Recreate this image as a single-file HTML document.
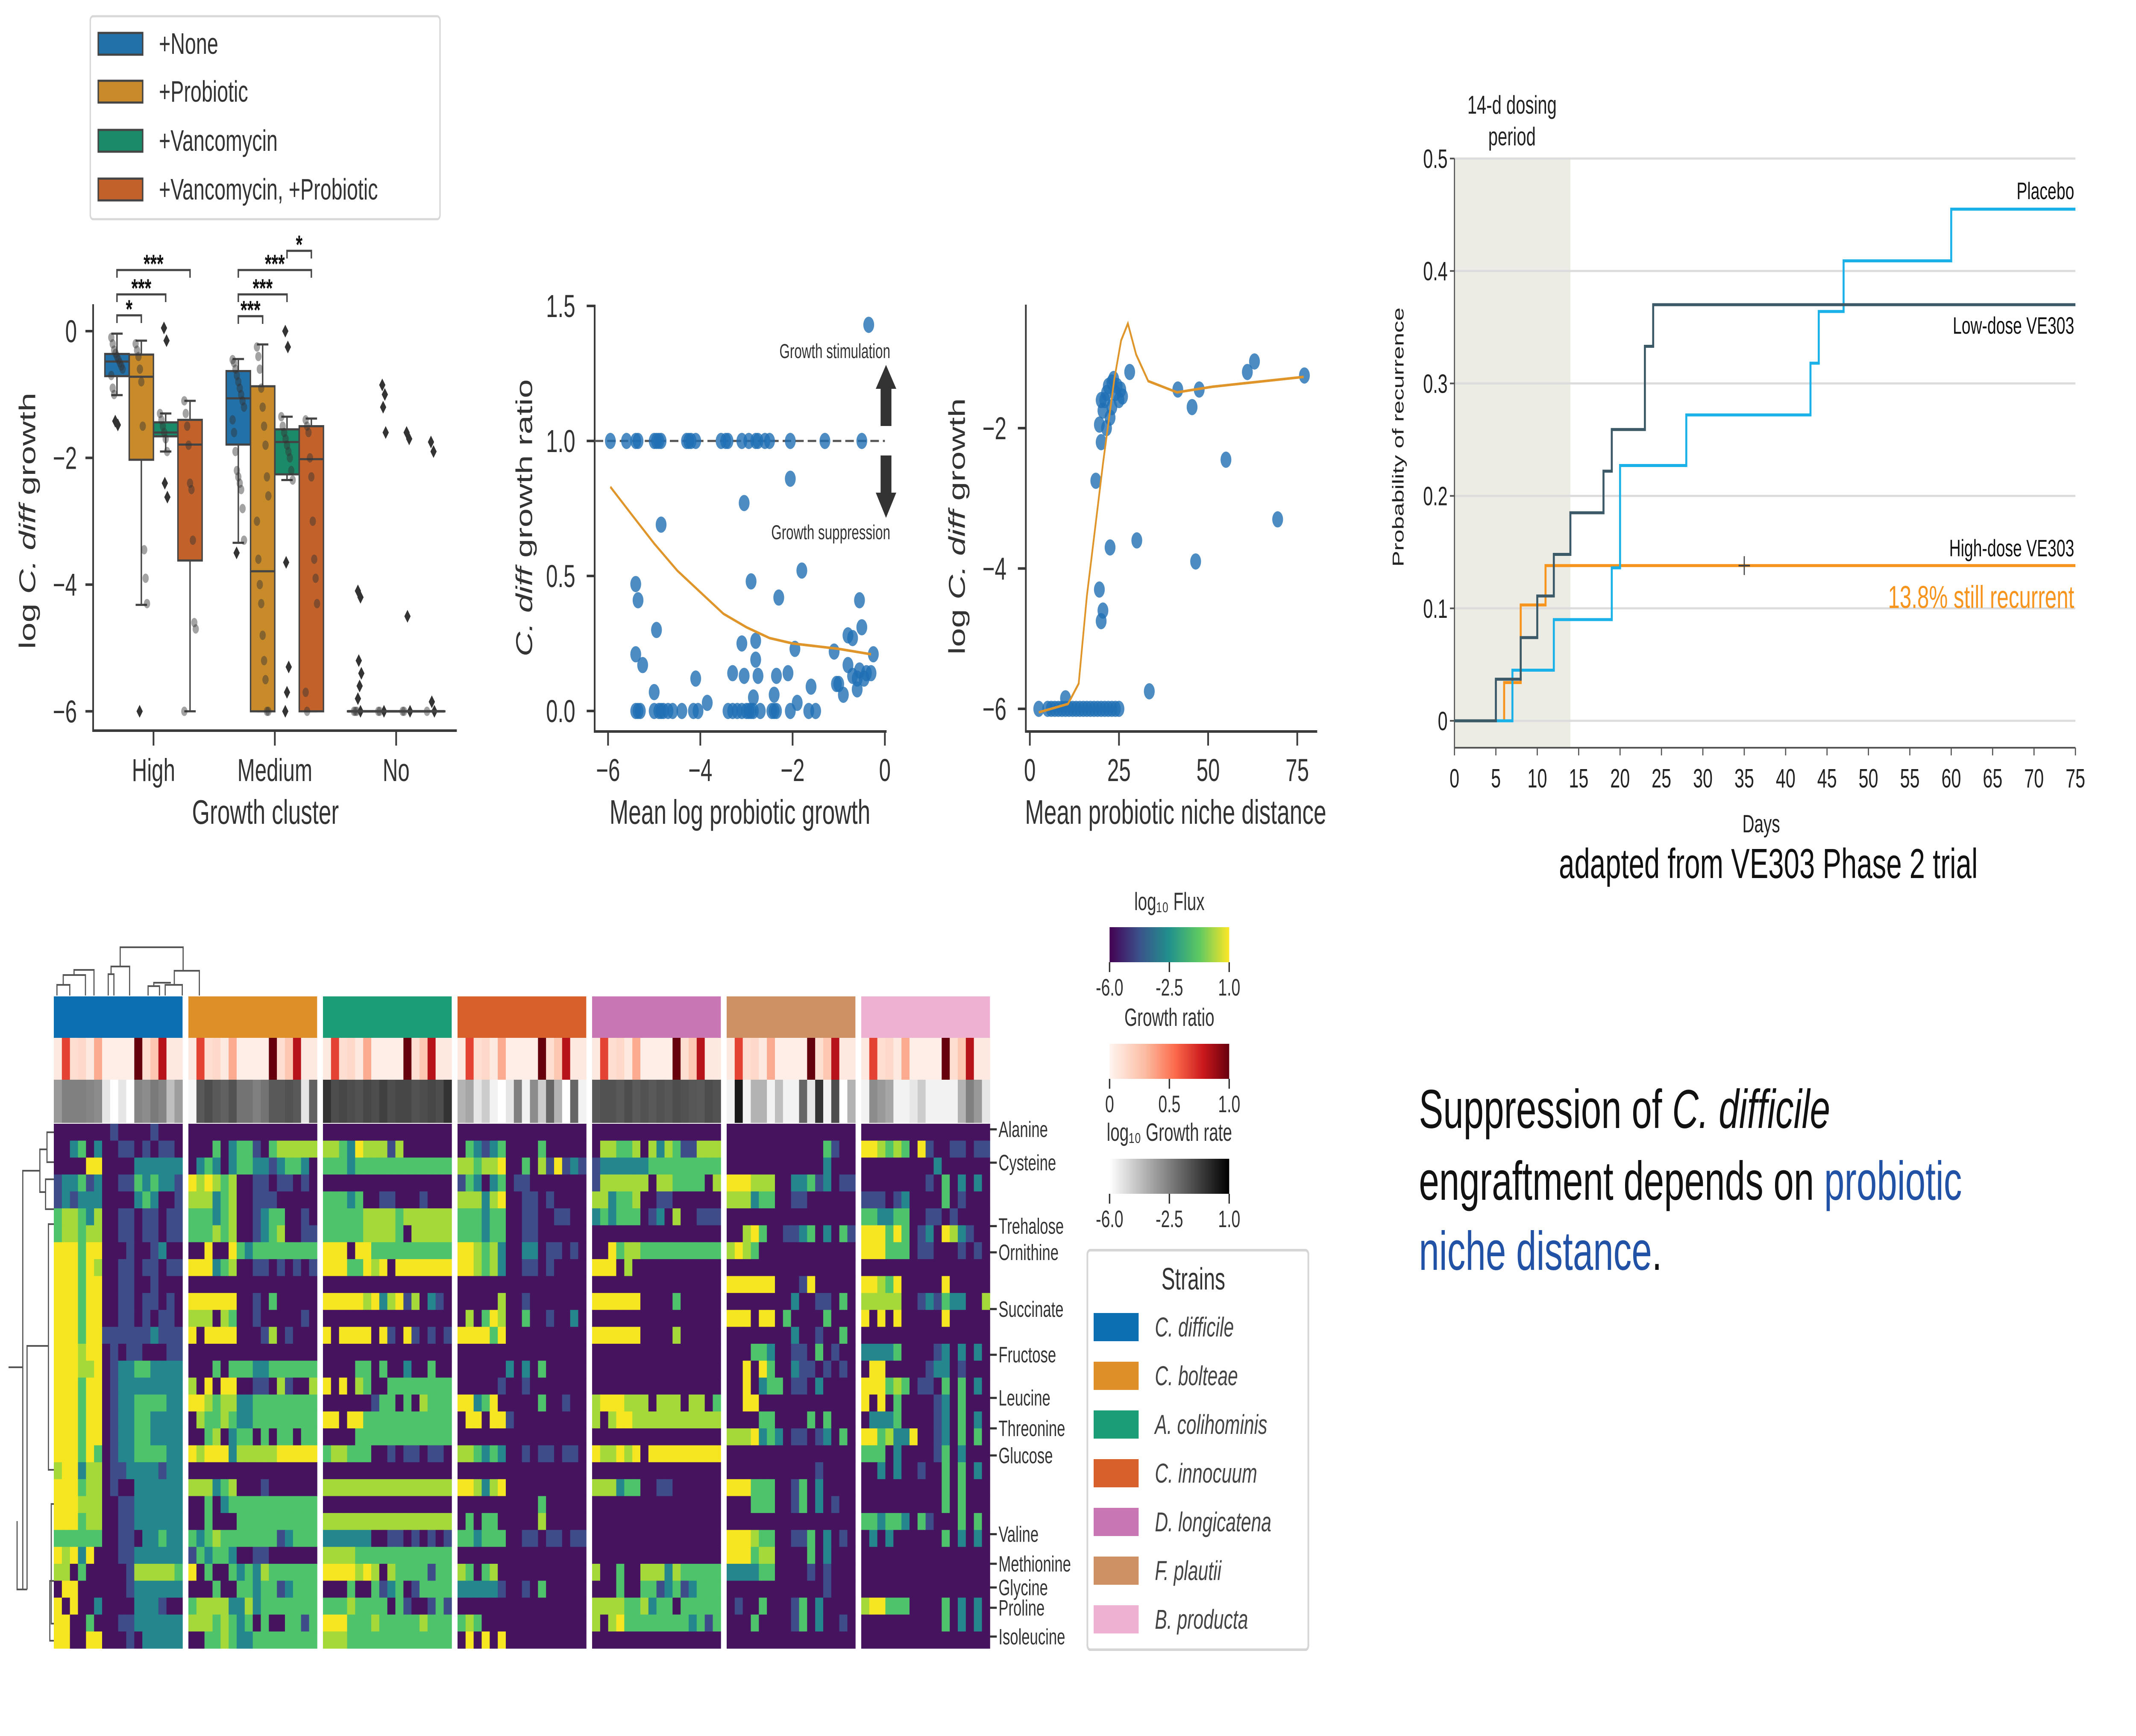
<!DOCTYPE html>
<html><head><meta charset="utf-8"><style>
html,body{margin:0;padding:0;background:#fff;overflow:hidden;width:100%;height:100%;}
svg{display:block;width:100vw;height:100vh;}
text{font-family:"Liberation Sans",sans-serif;}
.nar{font-family:"Liberation Sans Narrow","Liberation Sans",sans-serif;}
</style></head><body>
<svg id="fig" xmlns="http://www.w3.org/2000/svg" viewBox="0 0 7500 4063" preserveAspectRatio="none">
<defs>
<linearGradient id="gViridis" x1="0" x2="1" y1="0" y2="0"><stop offset="0" stop-color="#440154"/><stop offset="0.25" stop-color="#3b528b"/><stop offset="0.5" stop-color="#21918c"/><stop offset="0.75" stop-color="#5ec962"/><stop offset="1" stop-color="#fde725"/></linearGradient>
<linearGradient id="gReds" x1="0" x2="1" y1="0" y2="0"><stop offset="0" stop-color="#fff5f0"/><stop offset="0.3" stop-color="#fcbba1"/><stop offset="0.55" stop-color="#fb6a4a"/><stop offset="0.78" stop-color="#cb181d"/><stop offset="1" stop-color="#67000d"/></linearGradient>
<linearGradient id="gGrays" x1="0" x2="1" y1="0" y2="0"><stop offset="0" stop-color="#ffffff"/><stop offset="1" stop-color="#000000"/></linearGradient>
</defs>

<g>
<rect x="317" y="38" width="1228" height="475" rx="10" fill="#fff" stroke="#d8d8d8" stroke-width="5"/>
<rect x="345" y="77" width="156" height="51" fill="#2271a9" stroke="#444" stroke-width="5"/>
<text x="558" y="126" font-size="70" fill="#333">+None</text>
<rect x="345" y="189" width="156" height="51" fill="#c98b2a" stroke="#444" stroke-width="5"/>
<text x="558" y="238" font-size="70" fill="#333">+Probiotic</text>
<rect x="345" y="304" width="156" height="51" fill="#1b8a68" stroke="#444" stroke-width="5"/>
<text x="558" y="353" font-size="70" fill="#333">+Vancomycin</text>
<rect x="345" y="418" width="156" height="51" fill="#c2622a" stroke="#444" stroke-width="5"/>
<text x="558" y="467" font-size="70" fill="#333">+Vancomycin, +Probiotic</text>
</g>
<g id="boxplot"></g>
<g id="scatter1"></g>
<g id="scatter2"></g>
<g id="km"></g>
<g id="heat"></g>

<text x="6209" y="2055" font-size="98" fill="#111" text-anchor="middle">adapted from VE303 Phase 2 trial</text>
<g font-size="128" fill="#111">
<text x="4982" y="2640">Suppression of <tspan font-style="italic">C. difficile</tspan></text>
<text x="4982" y="2808">engraftment depends on <tspan fill="#2152a6">probiotic</tspan></text>
<text x="4982" y="2972"><tspan fill="#2152a6">niche distance</tspan>.</text>
</g>
</svg>
<script>
const NS='http://www.w3.org/2000/svg';
function el(tag,attrs,parent){const e=document.createElementNS(NS,tag);for(const k in attrs)e.setAttribute(k,attrs[k]);parent.appendChild(e);return e;}
function txt(parent,x,y,s,size,extra){const t=el('text',Object.assign({x:x,y:y,'font-size':size,fill:'#333'},extra||{}),parent);t.textContent=s;return t;}

/* ================= BOX PLOT DATA ================= */
const boxCategories=['High','Medium','No'];
const boxGroups=['None','Probiotic','Vancomycin','Vanco+Probiotic'];
const boxQ1=[[-0.71,-2.03,-1.66,-3.62],[-1.79,-6.0,-2.26,-6.0],[-6,-6,-6,-6]];
const boxMed=[[-0.48,-0.72,-1.6,-1.79],[-1.06,-3.79,-1.75,-2.02],[-6,-6,-6,-6]];
const boxQ3=[[-0.36,-0.37,-1.44,-1.4],[-0.63,-0.87,-1.55,-1.5],[-6,-6,-6,-6]];
const boxWLo=[[-1.01,-4.32,-1.9,-6.0],[-3.34,-6.0,-2.35,-6.0],[-6,-6,-6,-6]];
const boxWHi=[[-0.04,-0.15,-1.3,-1.1],[-0.44,-0.21,-1.35,-1.38],[-6,-6,-6,-6]];
const boxOutliers=[[[-1.42,-1.48],[-6.0],[0.05,-0.15,-2.4,-2.62],[]],[[-3.5],[],[0.0,-0.25,-3.65,-5.3,-5.7,-6.0],[]],[[-4.1,-4.2,-5.2,-5.4,-5.6,-5.8,-6],[-0.85,-1.0,-1.2,-1.6,-6],[-1.6,-1.7,-4.5,-6],[-1.75,-1.9,-5.85,-6]]];
const boxStrip=[[[-0.1,-0.2,-0.3,-0.35,-0.4,-0.45,-0.5,-0.55,-0.6,-0.7,-0.9,-1.0],[-0.2,-0.3,-0.4,-0.6,-0.8,-1.5,-3.45,-3.9,-4.3],[-1.3,-1.4,-1.5,-1.6,-1.7,-1.9],[-1.1,-1.3,-1.5,-1.8,-2.4,-2.5,-3.3,-4.6,-4.7,-6.0]],
 [[-0.45,-0.5,-0.6,-0.7,-0.8,-0.9,-1.0,-1.1,-1.2,-1.4,-1.6,-1.9,-2.2,-2.3,-2.4,-2.5,-2.8,-3.3],[-0.25,-0.4,-0.6,-0.9,-1.2,-1.5,-1.8,-2.3,-2.6,-3.0,-3.6,-4.0,-4.3,-4.8,-5.2,-5.5,-6.0,-6.0],[-1.35,-1.5,-1.6,-1.7,-1.8,-1.9,-2.0,-2.2,-2.35],[-1.4,-1.5,-1.6,-2.0,-2.3,-3.0,-3.6,-3.9,-4.3,-5.7,-6.0]],
 [[-6,-6,-6],[-6,-6],[-6,-6],[-6]]];
const boxColors=['#2271a9','#c98b2a','#1b8a68','#c2622a'];
const boxYTicks=[0,-2,-4,-6];
const sigBrackets=[[0,0,1,'*',738],[0,0,2,'***',689],[0,0,3,'***',632],[1,0,1,'***',740],[1,0,2,'***',689],[1,0,3,'***',632],[1,2,3,'*',587]];

(function(){
 const g=document.getElementById('boxplot');
 const by=v=>775-v*148.3;
 const catX=[539,965,1391];
 const bx=(c,k)=>catX[c]+(k-1.5)*85.5;
 let a=el('line',{x1:327,y1:712,x2:327,y2:1710,stroke:'#3a3a3a','stroke-width':6},g);
 
 
 a=el('line',{x1:324,y1:1710,x2:1604,y2:1710,stroke:'#3a3a3a','stroke-width':6},g);
 
 
 boxYTicks.forEach(v=>{
  const t=el('line',{x1:300,x2:327,y1:by(v),y2:by(v),stroke:'#3a3a3a','stroke-width':6},g);
  
  
  const l=txt(g,270,by(v)+26,(v<0?'\u2212':'')+Math.abs(v),74,{'text-anchor':'end'});
  
  
 });
 boxCategories.forEach((c,i)=>{
  const t=el('line',{x1:catX[i],x2:catX[i],y1:1710,y2:1745,stroke:'#3a3a3a','stroke-width':6},g);
  
  
  const l=txt(g,catX[i],1828,c,74,{'text-anchor':'middle'});
  
  
 });
 let tt=txt(g,932,1928,'Growth cluster',80,{'text-anchor':'middle'});
 
 
 tt=el('text',{x:0,y:0,'font-size':80,fill:'#333','text-anchor':'middle',transform:'translate(124,1219) rotate(-90)'},g);
 tt.innerHTML='log <tspan font-style="italic">C. diff</tspan> growth';
 
 
 for(let c=0;c<3;c++)for(let k=0;k<4;k++){
  const x=bx(c,k),w=85;
  const wl=el('line',{x1:x,x2:x,y1:by(boxWHi[c][k]),y2:by(boxWLo[c][k]),stroke:'#444','stroke-width':5},g);
  
  
  [boxWHi[c][k],boxWLo[c][k]].forEach(v=>{const cap=el('line',{x1:x-20,x2:x+20,y1:by(v),y2:by(v),stroke:'#444','stroke-width':5},g);
   
   });
  const h=Math.max(by(boxQ1[c][k])-by(boxQ3[c][k]),0.01);
  const r=el('rect',{x:x-w/2,y:by(boxQ3[c][k]),width:w,height:h,fill:boxColors[k],stroke:'#444','stroke-width':5},g);
  
  
  const m=el('line',{x1:x-w/2,x2:x+w/2,y1:by(boxMed[c][k]),y2:by(boxMed[c][k]),stroke:'#444','stroke-width':5},g);
  
  
  boxStrip[c][k].forEach((v,i)=>{const p=el('circle',{cx:x+((i*37)%9-4)*5,cy:by(v),r:11,fill:'#333','fill-opacity':0.45},g);
   
   });
  boxOutliers[c][k].forEach((v,i)=>{const y=by(v),xx=x+((i*23)%5-2)*3;const d=el('path',{d:`M${xx} ${y-15}L${xx+11} ${y}L${xx} ${y+15}L${xx-11} ${y}Z`,fill:'#333'},g);
   
   });
 }
 const nl=el('line',{x1:1220,x2:1561,y1:by(-6),y2:by(-6),stroke:'#444','stroke-width':6},g);
 
 
 sigBrackets.forEach(s=>{
  const x1=bx(s[0],s[1]),x2=bx(s[0],s[2]),y=s[4];
  const p=el('path',{d:`M${x1} ${y+18}V${y}H${x2}V${y+18}`,fill:'none',stroke:'#444','stroke-width':5},g);
  
  
  const t=txt(g,(x1+x2)/2,y+6,s[3],60,{'text-anchor':'middle',fill:'#111','font-weight':'bold'});
  
  
 });
})();

/* ================= SCATTER 1 DATA ================= */
const s1X=[-5.95,-5.6,-5.4,-5.35,-5.0,-4.95,-4.9,-4.85,-4.3,-4.25,-4.2,-4.1,-3.55,-3.45,-3.4,-3.1,-2.95,-2.8,-2.75,-2.6,-2.5,-2.05,-1.3,-0.5,
 -0.35,-2.05,-3.05,-4.85,-1.8,-2.9,-2.3,-5.4,-5.35,-0.55,-4.95,-0.5,-3.1,-2.8,-1.95,-1.1,-0.25,-0.7,-0.8,-5.4,-5.25,-4.1,-5.0,-3.3,-3.05,-2.75,-2.8,-2.35,-2.1,-2.4,-2.85,-1.6,-1.9,-3.85,-1.0,-0.9,-0.6,-0.4,-0.55,-0.7,-0.8,-0.45,-0.6,-1.05,-0.3,
 -5.4,-5.35,-5.3,-5.0,-4.9,-4.85,-4.8,-4.7,-4.6,-4.4,-4.15,-4.05,-3.4,-3.3,-3.2,-3.1,-3.0,-2.95,-2.9,-2.85,-2.7,-2.45,-2.4,-2.35,-2.05,-1.65,-1.5];
const s1Y=[1,1,1,1,1,1,1,1,1,1,1,1,1,1,1,1,1,1,1,1,1,1,1,1,
 1.43,0.86,0.77,0.69,0.52,0.48,0.42,0.47,0.41,0.41,0.3,0.31,0.25,0.26,0.23,0.22,0.21,0.27,0.28,0.21,0.17,0.12,0.07,0.14,0.13,0.13,0.19,0.13,0.14,0.06,0.05,0.09,0.03,0.03,0.1,0.06,0.08,0.14,0.15,0.13,0.17,0.12,0.12,0.1,0.14,
 0,0,0,0,0,0,0,0,0,0,0,0,0,0,0,0,0,0,0,0,0,0,0,0,0,0,0];
const s1FitX=[-5.95,-5.5,-5,-4.5,-4,-3.5,-3,-2.5,-2,-1.5,-1,-0.3];
const s1FitY=[0.83,0.73,0.62,0.52,0.44,0.36,0.31,0.27,0.25,0.24,0.23,0.21];
const s1XTicks=[-6,-4,-2,0];
const s1YTicks=[0,0.5,1,1.5];

(function(){
 const g=document.getElementById('scatter1');
 const sx=v=>3107+v*162,sy=v=>1664-v*632;
 let a=el('line',{x1:2088,y1:713,x2:2088,y2:1712,stroke:'#3a3a3a','stroke-width':6},g);
 
 
 a=el('line',{x1:2085,y1:1712,x2:3113,y2:1712,stroke:'#3a3a3a','stroke-width':6},g);
 
 
 s1YTicks.forEach(v=>{const t=el('line',{x1:2060,x2:2088,y1:sy(v),y2:sy(v),stroke:'#3a3a3a','stroke-width':6},g);
  
  
  const l=txt(g,2020,sy(v)+26,v.toFixed(1),74,{'text-anchor':'end'});
  
  });
 s1XTicks.forEach(v=>{const t=el('line',{x1:sx(v),x2:sx(v),y1:1712,y2:1745,stroke:'#3a3a3a','stroke-width':6},g);
  
  
  const l=txt(g,sx(v),1828,(v<0?'\u2212':'')+Math.abs(v),74,{'text-anchor':'middle'});
  
  });
 let t=txt(g,2598,1928,'Mean log probiotic growth',80,{'text-anchor':'middle'});
 
 
 t=el('text',{x:0,y:0,'font-size':80,fill:'#333','text-anchor':'middle',transform:'translate(1868,1212) rotate(-90)'},g);
 t.innerHTML='<tspan font-style="italic">C. diff</tspan> growth ratio';
 
 
 const d=el('line',{x1:2088,x2:3107,y1:sy(1),y2:sy(1),stroke:'#555','stroke-width':5,'stroke-dasharray':'30 14'},g);
 
 
 s1X.forEach((x,i)=>{const c=el('circle',{cx:sx(x),cy:sy(s1Y[i]),r:19,fill:'#1f6fb4','fill-opacity':0.8},g);
  
  });
 const p=el('polyline',{points:s1FitX.map((x,i)=>sx(x)+','+sy(s1FitY[i])).join(' '),fill:'none',stroke:'#e0952a','stroke-width':6},g);
 
 
 t=txt(g,3126,838,'Growth stimulation',47,{'text-anchor':'end'});
 
 
 t=txt(g,3126,1262,'Growth suppression',47,{'text-anchor':'end'});
 
 
 let ar=el('path',{d:'M3092 997V910H3075L3111 854L3147 910H3130V997Z',fill:'#333'},g);
 
 
 ar=el('path',{d:'M3092 1066V1153H3075L3111 1212L3147 1153H3130V1066Z',fill:'#333'},g);
 
 
})();

/* ================= SCATTER 2 DATA ================= */
const s2X=[2.5,5,6,7,8,9,10,11,12,13,14,15,16,17,18,19,20,21,22,23,24,25,10,18.5,19.5,20,20.5,22.5,30,33.5,46.5,55,69.5,41.5,45.5,47.5,61,63,77,28,
 19.5,20,20.5,21,21.5,22,22.5,23,23.5,24,24.5,25,25.5,26,21.5,23,20];
const s2Y=[-6,-6,-6,-6,-6,-6,-6,-6,-6,-6,-6,-6,-6,-6,-6,-6,-6,-6,-6,-6,-6,-6,-5.85,-2.75,-4.3,-4.75,-4.6,-3.7,-3.6,-5.75,-3.9,-2.45,-3.3,-1.45,-1.7,-1.45,-1.2,-1.05,-1.25,-1.2,
 -1.95,-2.2,-1.75,-1.6,-1.5,-1.4,-1.85,-1.35,-1.3,-1.5,-1.4,-1.6,-1.45,-1.55,-2.0,-1.7,-1.6];
const s2FitX=[2.5,10.7,13.7,16.0,20.6,23.7,25.6,27.5,29.8,33.2,41.3,51.2,76.8];
const s2FitY=[-6.05,-5.93,-5.64,-4.39,-2.47,-1.3,-0.75,-0.51,-0.95,-1.33,-1.49,-1.41,-1.27];
const s2XTicks=[0,25,50,75];
const s2YTicks=[-2,-4,-6];

(function(){
 const g=document.getElementById('scatter2');
 const sx=v=>3616+v*12.52,sy=v=>1002-(v+2)*164.25;
 let a=el('line',{x1:3602,y1:713,x2:3602,y2:1712,stroke:'#3a3a3a','stroke-width':6},g);
 
 
 a=el('line',{x1:3599,y1:1712,x2:4625,y2:1712,stroke:'#3a3a3a','stroke-width':6},g);
 
 
 s2YTicks.forEach(v=>{const t=el('line',{x1:3574,x2:3602,y1:sy(v),y2:sy(v),stroke:'#3a3a3a','stroke-width':6},g);
  
  
  const l=txt(g,3534,sy(v)+26,'\u2212'+Math.abs(v),74,{'text-anchor':'end'});
  
  });
 s2XTicks.forEach(v=>{const t=el('line',{x1:sx(v),x2:sx(v),y1:1712,y2:1745,stroke:'#3a3a3a','stroke-width':6},g);
  
  
  const l=txt(g,sx(v),1828,String(v),74,{'text-anchor':'middle'});
  
  });
 let t=txt(g,4128,1928,'Mean probiotic niche distance',80,{'text-anchor':'middle'});
 
 
 t=el('text',{x:0,y:0,'font-size':80,fill:'#333','text-anchor':'middle',transform:'translate(3388,1232) rotate(-90)'},g);
 t.innerHTML='log <tspan font-style="italic">C. diff</tspan> growth';
 
 
 s2X.forEach((x,i)=>{const c=el('circle',{cx:sx(x),cy:sy(s2Y[i]),r:19,fill:'#1f6fb4','fill-opacity':0.8},g);
  
  });
 const p=el('polyline',{points:s2FitX.map((x,i)=>sx(x)+','+sy(s2FitY[i])).join(' '),fill:'none',stroke:'#e0952a','stroke-width':6},g);
 
 
})();

/* ================= KAPLAN-MEIER DATA ================= */
const kmPlaceboDays=[0,7,12,19,20,28,43,44,47,60,75];
const kmPlaceboProb=[0,0.045,0.09,0.136,0.227,0.272,0.318,0.364,0.409,0.455,0.455];
const kmLowDays=[0,5,8,10,12,14,18,19,23,24,75];
const kmLowProb=[0,0.037,0.074,0.111,0.148,0.185,0.222,0.259,0.333,0.37,0.37];
const kmHighDays=[0,6,8,11,75];
const kmHighProb=[0,0.034,0.103,0.138,0.138];
const kmXTicks=[0,5,10,15,20,25,30,35,40,45,50,55,60,65,70,75];
const kmYTicks=[0,0.1,0.2,0.3,0.4,0.5];

(function(){
 const g=document.getElementById('km');
 const kx=v=>5107+v*29.07,ky=v=>1687-v*2632;
 let r=el('rect',{x:kx(0),y:ky(0.5),width:kx(14)-kx(0),height:1750-ky(0.5),fill:'#ececE4'},g);
 
 
 kmYTicks.forEach(v=>{const l=el('line',{x1:kx(0),x2:kx(75),y1:ky(v),y2:ky(v),stroke:'#dcdcdc','stroke-width':5},g);
  
  
  const t=el('line',{x1:kx(0)-16,x2:kx(0),y1:ky(v),y2:ky(v),stroke:'#555','stroke-width':4},g);
  
  
  const lb=txt(g,kx(0)-24,ky(v)+22,v===0?'0':v.toFixed(1),62,{'text-anchor':'end',fill:'#222',class:'nar'});
  
  });
 let a=el('line',{x1:kx(0),y1:ky(0.5),x2:kx(0),y2:1750,stroke:'#555','stroke-width':4},g);
 
 
 a=el('line',{x1:kx(0),y1:1750,x2:kx(75),y2:1750,stroke:'#555','stroke-width':4},g);
 
 
 kmXTicks.forEach(v=>{const t=el('line',{x1:kx(v),x2:kx(v),y1:1750,y2:1768,stroke:'#555','stroke-width':4},g);
  
  
  const lb=txt(g,kx(v),1843,String(v),62,{'text-anchor':'middle',fill:'#222',class:'nar'});
  
  });
 let t=txt(g,6184,1948,'Days',58,{'text-anchor':'middle',fill:'#222',class:'nar'});
 
 
 t=txt(g,0,0,'Probability of recurrence',56,{'text-anchor':'middle',fill:'#222',transform:'translate(4928,1023) rotate(-90)'});
 
 
 t=txt(g,5309,266,'14-d dosing',60,{'text-anchor':'middle',fill:'#222',class:'nar'});
 
 
 t=txt(g,5309,340,'period',60,{'text-anchor':'middle',fill:'#222',class:'nar'});
 
 
 function step(days,prob){let d=`M${kx(days[0])} ${ky(prob[0])}`;for(let i=1;i<days.length;i++){d+=`H${kx(days[i])}V${ky(prob[i])}`;}return d;}
 let p=el('path',{d:step(kmHighDays,kmHighProb),fill:'none',stroke:'#f7941d','stroke-width':7},g);
 
 
 p=el('path',{d:step(kmPlaceboDays,kmPlaceboProb),fill:'none',stroke:'#1ab0e8','stroke-width':7},g);
 
 
 p=el('path',{d:step(kmLowDays,kmLowProb),fill:'none',stroke:'#3b5966','stroke-width':7},g);
 
 
 const cx=kx(35),cy=ky(kmHighProb[kmHighProb.length-1]);
 p=el('path',{d:`M${cx-20} ${cy}H${cx+20}M${cx} ${cy-22}V${cy+22}`,stroke:'#444','stroke-width':4},g);
 
 
 t=txt(g,7283,466,'Placebo',56,{'text-anchor':'end',fill:'#111',class:'nar'});
 
 
 t=txt(g,7283,781,'Low-dose VE303',56,{'text-anchor':'end',fill:'#111',class:'nar'});
 
 
 t=txt(g,7283,1302,'High-dose VE303',56,{'text-anchor':'end',fill:'#111',class:'nar'});
 
 
 t=txt(g,7283,1423,'13.8% still recurrent',74,{'text-anchor':'end',fill:'#f7941d',class:'nar'});
 
 
})();

/* ================= HEATMAP DATA ================= */
const strainNames=['C. difficile','C. bolteae','A. colihominis','C. innocuum','D. longicatena','F. plautii','B. producta'];
const strainColors=['#0b6fb2','#de8f28','#1b9e77','#d8602a','#c877b4','#cd9163','#eeb1d2'];
const blockDiff=['0000000100001000','0023020011010110','0000550000222222','1223120011323221','1212220000232001','3443240011011011','3443440011011011','5553550001001200','5553540011011011','5553550011001000','5553550011011010','5553550011010110','5553551111112111','5554550101100011','5554450122332222','5553550122222222','5553550122333322','5553550122332222','5553550122332222','5553530122333322','4552440112222122','5553440100222222','5554440011222222','5553440011222222','3333330011022322','5452500011222222','4403000001444443','0550000001222222','5050020000222100','5500300011222222','5500550001022222'];
const blockBolteae=['0000000000000000','0003023310344444','0232023322123320','5454340011011010','4442340011100000','3332340012330010','3334340012340011','0050053233333333','5552340011010101','0000000000000000','5555550010300000','4440430010000010','5055550001401000','0000000000000000','0003033322333333','4050550011041004','5543442233333333','0433432233333333','0034023303033033','5455524444455555','0000000000000000','4442340001000000','0030233333333333','0030003333333333','3234333333312333','1323320011000000','5030032324333333','0003003323312333','3444422423333333','4443432303003313','0033432233333333'];
const blockColihominis=['0000000000000000','4432544414000000','3332333333333333','0000000000000000','3332300110001000','3333344443444444','3333344443044444','5550553333333333','5553354505555555','0000000000000000','5555545245140210','0000000000000000','5055550510510101','0000000000000000','0000330300200300','5050430033333333','0000001330304333','5505533333333333','0000333333333333','3443330010110110','0000000000000000','4444444444444444','0000000000000000','4444444444444444','2222220011010101','4444333333333333','5555454043333133','0003003123013333','3334333303100131','5553334333334333','4443333333333333'];
const blockInnocuum=['0000000000000000','0321230000300000','4434450030415121','1320230110000000','4442450011010000','3332330011001100','3332330011000000','5543420022011010','5543420011010000','0000000000000000','0000040010000000','0403540030010020','5555350000000000','0000000000000000','0000002020300000','0000010010000000','5523500000300100','0550551000000000','0000000000000000','4432320010110110','0000000000000000','5542450000000000','0000000000300000','0303300000400000','3323330011011011','0000000000000000','4303400000000000','2222210010300000','0000000000000000','3430000000000000','0505050000000000'];
const blockLongicatena=['0000000000000000','0443340424311444','1222222333333333','1444444044333304','4423340011000000','2323330120400111','0000000000000000','0053443333333333','5550400000000000','0000000000000000','5555550000300000','0000000000000000','5555550000400000','0000000000000000','0000000000000000','0000000000000000','4555444044404403','4045544444444444','0000000000000000','5445450555555555','0000000000000000','4442330011000000','0000000000000000','0000000000000000','0000000000000000','0000000000000000','4003004442433333','0003003312312333','4444334233033333','4045333333332313','0000000000000000'];
const blockPlautii=['0000000000000000','0000000000003100','0000000000002000','5554440022312011','4442330011000000','0000000000000000','0045300112302031','4543000000000000','0000000000000000','5555550001500000','0000000020011030','5550550300003000','0000000020010030','0003320011030100','0050530021101010','0050233011020000','0055000000000000','0000330000303000','4445232011012030','0000000000000000','0000000000010000','5553330013020000','0003330013020100','0000000000000000','5554330011302010','5553440000302000','2222330000101000','0000000000001000','0100300013020000','0003000013020010','0000000000000000'];
const blockProducta=['0000000000000000','5543430510011011','0000000002000000','0000000010302020','1110120000301000','3322330011010000','5553530120542100','5553330110001010','0000000000000000','5543500000500000','4444400121322004','5050500000500000','0000000000000000','2222300001202020','0550000012201000','5553430110303020','5050300001203000','0222300001203020','5534225001203030','3330200001302000','0020200100303020','0000000000303000','0000000000303000','3323320310003030','0202000000302020','0000000000000000','0000000000000000','0000000000000000','4553330000302020','0000000000302020','0000000000000000'];
const growthRatio=[0.05,0.62,0.1,0.12,0.05,0.3,0.03,0.03,0.03,0.03,1.0,0.1,0.2,0.8,0.05,0.05];
const growthRate=[[0.4,0.5,0.5,0.5,0.48,0.45,0.1,0,0.1,0,0.48,0.45,0.52,0.48,0.25,0.38],[0.03,0.65,0.7,0.65,0.62,0.68,0.55,0.55,0.5,0.55,0.65,0.65,0.68,0.65,0.1,0.62],[0.8,0.7,0.72,0.7,0.68,0.72,0.7,0.75,0.7,0.72,0.72,0.68,0.7,0.72,0.7,0.8],[0.3,0.35,0.1,0.2,0.05,0,0.1,0.5,0.05,0.45,0.2,0.6,0.3,0,0.6,0.05],[0.65,0.68,0.68,0.65,0.7,0.65,0.68,0.65,0.68,0.66,0.7,0.68,0.66,0.65,0.7,0.68],[0.05,0.9,0.05,0.3,0.3,0.05,0.25,0.05,0.05,0.6,0.1,0.8,0.05,0.7,0,0.3],[0.05,0.45,0.4,0.35,0.05,0.05,0.1,0.2,0.05,0.05,0.05,0.05,0.3,0.5,0.4,0.1]];
const metaboliteLabels=['Alanine','Cysteine','Trehalose','Ornithine','Succinate','Fructose','Leucine','Threonine','Glucose','Valine','Methionine','Glycine','Proline','Isoleucine'];
const metaboliteRows=[0.33,2.3,6.05,7.6,10.95,13.65,16.2,18.0,19.6,24.25,26.0,27.4,28.6,30.3];
const strainsTicks=['-6.0','-2.5','1.0'];

(function(){
 const g=document.getElementById('heat');
 const blocks=[blockDiff,blockBolteae,blockColihominis,blockInnocuum,blockLongicatena,blockPlautii,blockProducta];
 const pal=['#46145e','#3e4c8a','#24878d','#4ec36b','#a5d93a','#f6e621'];
 const X0=189,BP=472.5,BW=452,NC=16,CW=BW/NC,Y0=2630,RH=(3858-2630)/31;
 const hx=(b,c)=>X0+b*BP+c*CW, hy=r=>Y0+r*RH;
 function red(v){const st=[[255,245,240],[252,187,161],[251,106,74],[203,24,29],[103,0,13]];const p=Math.min(v,0.999)*4,i=Math.floor(p),f=p-i;const a=st[i],b=st[i+1];return `rgb(${a.map((x,k)=>Math.round(x+(b[k]-x)*f)).join(',')})`;}
 blocks.forEach((blk,b)=>{
  const s=el('rect',{x:hx(b,0),y:2332,width:BW,height:97,fill:strainColors[b]},g);
  
  
  for(let c=0;c<NC;c++){
   const rc=el('rect',{x:hx(b,c),y:2429,width:CW+0.6,height:98,fill:red(growthRatio[c])},g);
   
   
   const gv=Math.round(255*(1-growthRate[b][c]));
   const gc=el('rect',{x:hx(b,c),y:2527,width:CW+0.6,height:101,fill:`rgb(${gv},${gv},${gv})`},g);
   
   
  }
  blk.forEach((row,r)=>{
   const rs=row.padEnd(NC,'0').slice(0,NC);
   for(let c=0;c<NC;c++){
    const cell=el('rect',{x:hx(b,c),y:hy(r),width:CW+0.6,height:RH+0.6,fill:pal[+rs[c]]},g);
    
    
   }
  });
 });
 let dg=el('path',{d:'M380 2330V2280H400V2330M390 2280V2262H455V2330M422 2262V2217H643V2272H700V2330M643 2272H612V2305H580V2330M612 2305H640V2330M200 2330V2305H245V2330M222 2305V2282H300V2330M260 2282V2270H330V2330M520 2330V2308H560V2330M540 2308V2300H600',fill:'none',stroke:'#555','stroke-width':4},g);
 
 
 dg=el('path',{d:'M189 2650H165V2720H189M189 2760H160V2830H189M165 2690H140V2790H160M189 2865H170V3440H189M140 2740H80V3720H95M170 3150H95V3720M95 3720H60V3560M189 3520H180V3800H189M189 3700H175V3840H189M80 3200H30',fill:'none',stroke:'#555','stroke-width':4},g);
 
 
 metaboliteLabels.forEach((m,i)=>{
  const y=hy(metaboliteRows[i]);
  const tk=el('line',{x1:3476,x2:3500,y1:y,y2:y,stroke:'#333','stroke-width':5},g);
  
  
  const t=txt(g,3506,y+18,m,52,{fill:'#333',class:'nar'});
  
  
 });
 const bars=[['log\u2081\u2080 Flux','gViridis',2170,2130,strainsTicks],['Growth ratio','gReds',2443,2401,['0','0.5','1.0']],['log\u2081\u2080 Growth rate','gGrays',2712,2670,strainsTicks]];
 bars.forEach(bb=>{
  let t=txt(g,4106,bb[3],bb[0],58,{'text-anchor':'middle',fill:'#333',class:'nar'});
  
  
  const r=el('rect',{x:3896,y:bb[2],width:420,height:82,fill:`url(#${bb[1]})`},g);
  
  
  bb[4].forEach((lab,k)=>{
   const x=3896+k*210;
   const tk=el('line',{x1:x,x2:x,y1:bb[2]+82,y2:bb[2]+105,stroke:'#333','stroke-width':5},g);
   
   
   const l=txt(g,x,bb[2]+160,lab,56,{'text-anchor':'middle',fill:'#333',class:'nar'});
   
   
  });
 });
 let box=el('rect',{x:3818,y:2926,width:776,height:935,rx:10,fill:'#fff',stroke:'#d5d5d5','stroke-width':6},g);
 
 
 let t=txt(g,4190,3018,'Strains',72,{'text-anchor':'middle',fill:'#333'});
 
 
 strainNames.forEach((n,i)=>{
  const y=3106+i*114;
  const sw=el('rect',{x:3840,y:y-33,width:158,height:66,fill:strainColors[i]},g);
  
  
  const l=txt(g,4055,y+22,n,64,{fill:'#444','font-style':'italic'});
  
  
 });
})();
</script>
</body></html>
